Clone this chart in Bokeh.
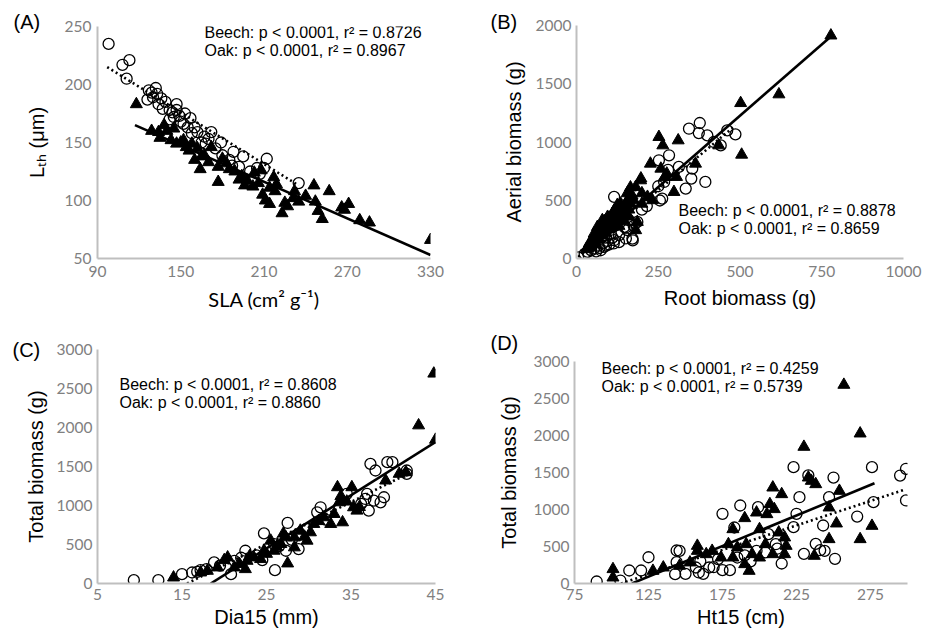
from bokeh.plotting import figure
from bokeh.layouts import row, column
from bokeh.models import Range1d, FixedTicker, Label
from bokeh.embed import file_html
from bokeh.resources import INLINE

# ---------------- data ----------------
# Panel A: SLA (cm2 g-1) vs Lth (um)
a_oak = [(98, 235), (108, 217), (113, 221), (111, 205), (127, 195), (132, 197), (126, 187), (130, 189),
         (134, 183), (139, 185), (137, 179), (142, 178), (147, 178), (149, 173), (153, 175), (157, 171),
         (152, 166), (155, 163), (160, 163), (162, 159), (167, 155), (172, 159), (168, 149), (170, 153),
         (179, 150), (180, 139), (188, 142), (195, 138), (192, 129), (187, 130), (205, 128), (212, 136),
         (207, 123), (235, 115), (147, 183), (142, 170), (133, 192), (145, 172), (150, 168), (158, 158),
         (165, 150), (175, 145), (185, 135), (200, 125), (210, 128), (129, 193), (136, 188), (144, 176)]
a_beech = [(118, 183), (129, 160), (134, 159), (138, 165), (135, 154), (140, 160), (143, 152), (147, 149),
           (152, 152), (154, 146), (158, 149), (162, 145), (160, 135), (164, 127), (167, 139), (172, 146),
           (177, 129), (177, 116), (180, 136), (183, 132), (189, 125), (192, 118), (194, 121), (196, 113),
           (202, 112), (203, 124), (208, 126), (209, 105), (211, 100), (214, 97), (217, 120), (219, 114),
           (218, 108), (223, 89), (227, 95), (231, 102), (235, 99), (232, 108), (246, 113), (247, 99),
           (249, 91), (252, 84), (257, 108), (266, 94), (271, 97), (279, 83), (286, 81), (330, 66),
           (145, 162), (150, 150), (156, 143), (165, 138), (170, 133), (185, 127), (198, 117), (206, 115),
           (214, 111), (225, 98), (240, 104), (268, 92)]
a_beech_fit_x = [117, 330]
a_beech_fit_y = [165, 53]
a_oak_fit_x = [97, 235]
a_oak_fit_y = [215, 113]

# Panel B: Root biomass (g) vs Aerial biomass (g)
b_oak = [(5, 9), (115, 529), (252, 843), (283, 886), (262, 514), (313, 786), (351, 686), (334, 600),
         (354, 771), (394, 657), (344, 1114), (377, 1163), (374, 1077), (400, 1057), (441, 971), (461, 1100),
         (486, 1066), (171, 171), (186, 314), (156, 243), (146, 271), (115, 157), (84, 100), (74, 71),
         (54, 86), (34, 57), (105, 214), (268, 657), (130, 200), (160, 330), (175, 280), (95, 150),
         (65, 110), (45, 70), (140, 380), (120, 300), (200, 420), (100, 260), (25, 40), (90, 180),
         (215, 450), (250, 620), (280, 760), (420, 1000), (151, 172), (172, 155), (114, 129), (80, 129),
         (151, 266), (255, 498), (60, 60), (110, 180), (130, 140), (90, 110), (70, 90), (100, 120)]
b_beech = [(778, 1914), (619, 1409), (502, 1334), (505, 891), (311, 1014), (252, 1043), (264, 971),
           (226, 814), (258, 771), (276, 729), (306, 700), (298, 571), (364, 814), (435, 971), (196, 671),
           (181, 614), (232, 500), (217, 529), (156, 500), (135, 471), (125, 429), (110, 386), (95, 357),
           (79, 329), (64, 271), (54, 214), (39, 129), (74, 243), (90, 300), (186, 314), (181, 243),
           (100, 300), (115, 350), (140, 420), (85, 280), (70, 230), (60, 190), (45, 150), (30, 80),
           (105, 330), (120, 380), (150, 440), (165, 470), (130, 320), (95, 250), (80, 200), (110, 270),
           (200, 560), (270, 700), (160, 360), (40, 100), (50, 140), (55, 170), (65, 230), (75, 260),
           (85, 320), (100, 350), (115, 410), (125, 460), (135, 380), (145, 400), (150, 470), (160, 420),
           (170, 540), (175, 500), (60, 120), (70, 170), (90, 220), (105, 260), (130, 280), (145, 330),
           (35, 90), (200, 470), (155, 560), (165, 610), (197, 687)]
b_beech_fit_x = [20, 778]
b_beech_fit_y = [49, 1906]
b_oak_fit_x = [5, 486]
b_oak_fit_y = [12, 1142]

# Panel C: Dia15 (mm) vs Total biomass (g)
c_oak = [(9.3, 43), (12.2, 43), (15.0, 120), (16.2, 141), (17.2, 171), (17.9, 184), (18.8, 270),
         (20.8, 120), (21.2, 291), (22.5, 420), (24.7, 643), (26.0, 171), (27.5, 776), (27.3, 420),
         (28.8, 441), (25.9, 506), (31.4, 977), (31.0, 913), (37.3, 1534), (37.9, 1449), (39.3, 1556),
         (39.9, 1556), (41.6, 1449), (41.6, 1406), (36.7, 1084), (36.9, 1149), (37.7, 1063), (38.5, 1041),
         (38.9, 1106), (37.1, 934), (19.5, 230), (23.8, 360), (24.5, 300), (26.5, 480), (29.7, 700),
         (32.0, 820), (34.5, 1150), (36.2, 1020), (16.8, 150), (22.0, 330), (28.0, 560)]
c_beech = [(44.8, 2691), (43.0, 2027), (45.0, 1843), (14.0, 77), (20.4, 334), (21.2, 206), (22.5, 184),
           (23.5, 334), (24.7, 420), (25.5, 549), (25.9, 420), (27.3, 591), (27.5, 257), (28.3, 591),
           (29.0, 677), (29.8, 549), (30.2, 656), (31.8, 849), (32.6, 763), (33.0, 891), (34.0, 784),
           (33.4, 1234), (33.6, 1041), (35.1, 1234), (35.3, 977), (35.7, 934), (39.1, 1320), (40.7, 1406),
           (41.5, 1427), (26.7, 506), (22.7, 291), (19.2, 206), (18.0, 163), (17.2, 141), (28.3, 463),
           (30.6, 763), (24.3, 313), (23.0, 350), (25.0, 380), (26.2, 470), (27.0, 640), (31.2, 800),
           (33.8, 1120), (34.5, 1050), (36.0, 980), (21.8, 250), (20.0, 300), (29.5, 600)]
c_beech_fit_x = [18.4, 45]
c_beech_fit_y = [0, 1813]
c_oak_fit_x = [15.6, 41.6]
c_oak_fit_y = [0, 1400]

# Panel D: Ht15 (cm) vs Total biomass (g)
d_oak = [(90, 27), (106, 40), (112, 176), (120, 176), (125, 355), (143, 126), (144, 446), (146, 441),
         (144, 288), (150, 131), (157, 216), (159, 149), (162, 131), (166, 216), (169, 220), (175, 180),
         (180, 180), (175, 942), (187, 1054), (183, 757), (199, 1031), (185, 351), (198, 441), (206, 667),
         (211, 531), (215, 270), (223, 1572), (227, 1166), (225, 942), (223, 761), (230, 401), (233, 1460),
         (247, 1166), (250, 1432), (243, 784), (238, 536), (241, 450), (244, 441), (251, 334), (266, 905),
         (276, 1572), (277, 1099), (295, 1459), (299, 1550), (299, 1122), (160, 300), (172, 330),
         (190, 380), (204, 420), (194, 300), (212, 470)]
d_beech = [(257, 2685), (268, 2027), (230, 1847), (233, 1432), (235, 1387), (238, 1342), (209, 1297),
           (215, 1207), (207, 1072), (210, 1005), (205, 937), (198, 959), (190, 883), (182, 734),
           (254, 1252), (247, 1027), (252, 811), (276, 779), (268, 599), (247, 599), (237, 374), (217, 396),
           (217, 622), (213, 689), (209, 396), (200, 734), (200, 351), (193, 171), (190, 261), (191, 531),
           (185, 486), (182, 351), (179, 531), (174, 351), (168, 441), (164, 396), (158, 509), (158, 441),
           (153, 284), (146, 239), (135, 216), (128, 171), (101, 194), (101, 81), (195, 396), (204, 531),
           (218, 509)]
d_beech_fit_x = [113.8, 277.7]
d_beech_fit_y = [0, 1355]
d_oak_fit_x = [106.4, 298]
d_oak_fit_y = [0, 1268]

panel_letters = ["(A)", "(B)", "(C)", "(D)"]
stats = [("Beech: p < 0.0001, r\u00b2 = 0.8726", "Oak: p < 0.0001, r\u00b2 = 0.8967"),
         ("Beech: p < 0.0001, r\u00b2 = 0.8878", "Oak: p < 0.0001, r\u00b2 = 0.8659"),
         ("Beech: p < 0.0001, r\u00b2 = 0.8608", "Oak: p < 0.0001, r\u00b2 = 0.8860"),
         ("Beech: p < 0.0001, r\u00b2 = 0.4259", "Oak: p < 0.0001, r\u00b2 = 0.5739")]

TICK_FONT = "Lato"
TITLE_FONT = "Liberation Sans"
TICK_COLOR = "#808080"
AXIS_COLOR = "#bfbfbf"


def make_panel(w, h, bl, br, bt, bb, xr, yr, xticks, yticks, xlabel, ylabel,
               xstand, ystand, ytick_stand, xtick_stand, beech, oak, bfx, bfy, ofx, ofy,
               letter, letter_offset, letter_standoff, text_lines, text_pos, xlabel_font=TITLE_FONT):
    p = figure(width=w, height=h, x_range=Range1d(*xr), y_range=Range1d(*yr),
               output_backend="svg", toolbar_location=None,
               min_border_left=bl, min_border_right=br, min_border_top=bt, min_border_bottom=bb)
    p.outline_line_color = None
    p.grid.visible = False
    p.background_fill_color = "white"
    p.border_fill_color = "white"
    for ax, ticks in ((p.xaxis[0], xticks), (p.yaxis[0], yticks)):
        ax.ticker = FixedTicker(ticks=ticks)
        ax.major_tick_line_color = None
        ax.minor_tick_line_color = None
        ax.major_tick_out = 0
        ax.major_tick_in = 0
        ax.axis_line_color = AXIS_COLOR
        ax.axis_line_width = 2
        ax.major_label_text_font = TICK_FONT
        ax.major_label_text_font_size = "15.5px"
        ax.major_label_text_color = TICK_COLOR
        ax.axis_label_text_font_style = "normal"
        ax.axis_label_text_font_size = "20px"
        ax.axis_label_text_color = "black"
    p.xaxis[0].axis_label = xlabel
    p.xaxis[0].axis_label_text_font = xlabel_font
    p.yaxis[0].axis_label = ylabel
    p.yaxis[0].axis_label_text_font = TITLE_FONT
    p.xaxis[0].axis_label_standoff = xstand
    p.yaxis[0].axis_label_standoff = ystand
    p.xaxis[0].major_label_standoff = xtick_stand
    p.yaxis[0].major_label_standoff = ytick_stand

    # panel letter as the figure title, pushed to the left of the frame
    p.title.text = letter
    p.title.align = "left"
    p.title.offset = letter_offset
    p.title.standoff = letter_standoff
    p.title.text_font = TITLE_FONT
    p.title.text_font_size = "20px"
    p.title.text_font_style = "normal"
    p.title.text_color = "black"

    p.scatter([q[0] for q in beech], [q[1] for q in beech], marker="triangle", size=12,
              fill_color="black", line_color="black", line_width=1)
    p.scatter([q[0] for q in oak], [q[1] for q in oak], marker="circle", size=11,
              fill_color=None, line_color="black", line_width=1.3)
    p.line(bfx, bfy, line_color="black", line_width=2.6)
    p.line(ofx, ofy, line_color="black", line_width=2.6, line_dash="2 3")

    tx, ty = text_pos
    for i, t in enumerate(text_lines):
        p.add_layout(Label(x=tx, y=ty - 18 * i, x_units="screen", y_units="screen",
                           text=t, text_font=TITLE_FONT, text_font_size="16px",
                           text_baseline="middle", text_align="left", text_color="black"))
    return p


pA = make_panel(468, 320, 97, 38, 26, 62, (90, 330), (50, 250),
                [90, 150, 210, 270, 330], [50, 100, 150, 200, 250],
                "SLA (cm\u00b2 g\u207b\u00b9)", "L\u209c\u2095 (\u03bcm)",
                7, 14, 6, 7, a_beech, a_oak, a_beech_fit_x, a_beech_fit_y, a_oak_fit_x, a_oak_fit_y,
                panel_letters[0], -84, -12, stats[0], (107, 226), xlabel_font=TICK_FONT)
pB = make_panel(456, 320, 108, 21, 25, 62, (0, 1000), (0, 2000),
                [0, 250, 500, 750, 1000], [0, 500, 1000, 1500, 2000],
                "Root biomass (g)", "Aerial biomass (g)",
                7, 8, 5, 7, b_beech, b_oak, b_beech_fit_x, b_beech_fit_y, b_oak_fit_x, b_oak_fit_y,
                panel_letters[1], -86, -14, stats[1], (102, 48))
pC = make_panel(468, 319, 97, 33, 29, 56, (5, 45), (0, 3000),
                [5, 15, 25, 35, 45], [0, 500, 1000, 1500, 2000, 2500, 3000],
                "Dia15 (mm)", "Total biomass (g)",
                3, 7, 5, 5, c_beech, c_oak, c_beech_fit_x, c_beech_fit_y, c_oak_fit_x, c_oak_fit_y,
                panel_letters[2], -85, -22, stats[2], (22, 199))
pD = make_panel(456, 319, 106, 17, 41, 56, (75, 300), (0, 3000),
                [75, 125, 175, 225, 275], [0, 500, 1000, 1500, 2000, 2500, 3000],
                "Ht15 (cm)", "Total biomass (g)",
                3, 11, 5, 5, d_beech, d_oak, d_beech_fit_x, d_beech_fit_y, d_oak_fit_x, d_oak_fit_y,
                panel_letters[3], -84, 16, stats[3], (27, 215))

# wrap every figure in its own column so that the row does not align their frames
layout = column(row(column(pA), column(pB), spacing=0),
                row(column(pC), column(pD), spacing=0), spacing=0)

open("out.html", "w").write(file_html(layout, INLINE))
